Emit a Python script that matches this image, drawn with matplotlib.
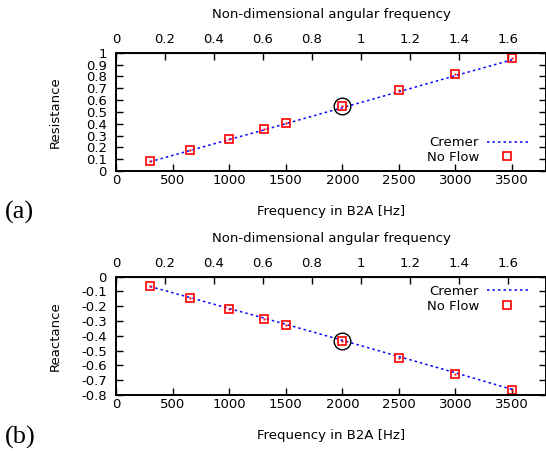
import numpy as np
import matplotlib
matplotlib.use("Agg")
import matplotlib.pyplot as plt

# ---- data ----
freq = [300, 650, 1000, 1310, 1500, 2000, 2500, 3000, 3500]
resistance_noflow = [0.084, 0.179, 0.274, 0.358, 0.408, 0.547, 0.682, 0.821, 0.953]
resistance_cremer = [0.078, 0.172, 0.266, 0.347, 0.400, 0.535, 0.670, 0.806, 0.940]
reactance_noflow = [-0.064, -0.141, -0.218, -0.286, -0.327, -0.436, -0.550, -0.659, -0.768]
reactance_cremer = [-0.066, -0.140, -0.215, -0.280, -0.322, -0.430, -0.540, -0.650, -0.762]
highlight_freq = 2000
xticks_hz = [0, 500, 1000, 1500, 2000, 2500, 3000, 3500]
xticks_nd = [0, 0.2, 0.4, 0.6, 0.8, 1, 1.2, 1.4, 1.6]
yticks_a = [0, 0.1, 0.2, 0.3, 0.4, 0.5, 0.6, 0.7, 0.8, 0.9, 1]
yticks_b = [0, -0.1, -0.2, -0.3, -0.4, -0.5, -0.6, -0.7, -0.8]
hz_per_nd = 3465 / 1.6

plt.rcParams['font.family'] = ['DejaVu Sans']
W, H = 546, 451
fig = plt.figure(figsize=(W / 100, H / 100), dpi=100)
FS = 9.5
L = 116


def fmt(v):
    return '%g' % v


def make_panel(top_px, bot_px, xn, noflow, cremer, yticks, ylim, ylabel,
               legloc, leg_anchor, tag, tag_y):
    ax = fig.add_axes([L / W, 1 - bot_px / H, (W - L) / W, (bot_px - top_px) / H])
    hpx = bot_px - top_px
    ax.plot(xn, cremer, color='#0000ff', lw=1.1, ls=(0, (1.6, 2.0)), label='Cremer')
    ax.plot(xn, noflow, ls='none', marker='s', ms=5.4, mfc='none', mec='#ff0000',
            mew=1.2, label='No Flow')
    ax.plot(xn, noflow, ls='none', marker='s', ms=1.0, mfc='#ff0000', mec='#ff0000',
            mew=0.3)
    i = xn.index(highlight_freq)
    ax.plot([xn[i]], [noflow[i]], ls='none', marker='o', ms=12, mfc='none',
            mec='black', mew=1.0)
    ax.set_xlim(0, 3800)
    ax.set_ylim(*ylim)
    ax.set_xticks(xticks_hz)
    ax.set_xticklabels([fmt(v) for v in xticks_hz])
    ax.set_yticks(yticks)
    ax.set_yticklabels([fmt(v) for v in yticks])
    ax.tick_params(axis='x', direction='in', length=4.8, width=1.0, labelsize=FS,
                   pad=2.5, top=False)
    ax.tick_params(axis='y', direction='in', length=4.8, width=1.0, labelsize=FS,
                   pad=6.5, right=True)
    for sp in ax.spines.values():
        sp.set_linewidth(1.4)
    ax.set_ylabel(ylabel, fontsize=FS)
    ax.yaxis.set_label_coords(-0.125, 0.5)
    ax.set_xlabel('Frequency in B2A [Hz]', fontsize=FS)
    ax.xaxis.set_label_coords(0.5, -34.0 / hpx)
    sec = ax.secondary_xaxis('top', functions=(lambda f: f / hz_per_nd,
                                                lambda w: w * hz_per_nd))
    sec.set_xticks(xticks_nd)
    sec.set_xticklabels([fmt(v) for v in xticks_nd])
    sec.tick_params(direction='in', length=4.8, width=1.0, labelsize=FS, pad=4.8)
    sec.set_xlabel('Non-dimensional angular frequency', fontsize=FS, labelpad=10.5)
    ax.legend(loc=legloc, bbox_to_anchor=leg_anchor, markerfirst=False,
              frameon=False, fontsize=FS, handlelength=3.1, handletextpad=0.6,
              labelspacing=0.14, borderaxespad=0, borderpad=0, numpoints=1)
    fig.text(5 / W, 1 - tag_y / H, tag, fontsize=19, family='Liberation Serif',
             va='center', ha='left')
    return ax


axa = make_panel(52.7, 171, freq, resistance_noflow, resistance_cremer, yticks_a,
                 (0, 1), 'Resistance', 'lower right', (0.958, 7 / 118.3),
                 '(a)', 212)
axb = make_panel(276.7, 395, freq, reactance_noflow, reactance_cremer, yticks_b,
                 (-0.8, 0), 'Reactance', 'upper right', (0.958, 1 - 8.0 / 118.3),
                 '(b)', 437)

fig.savefig('out.png', dpi=100)
